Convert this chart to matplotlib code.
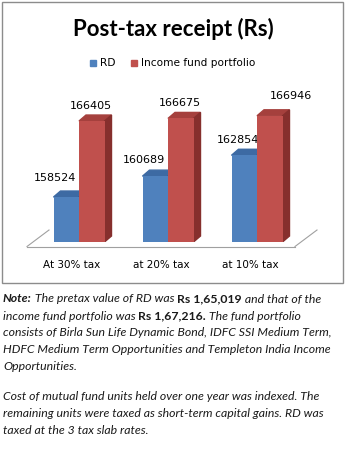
import numpy as np
import matplotlib.pyplot as plt
from matplotlib.patches import Polygon, Rectangle

categories = ["At 30% tax", "at 20% tax", "at 10% tax"]
series_names = ["RD", "Income fund portfolio"]
rd_values = [158524, 160689, 162854]
fund_values = [166405, 166675, 166946]

front_colors = ["#4F81BD", "#C0504D"]
top_colors = ["#3D6AA3", "#A5403D"]
side_colors = ["#2F5584", "#862F2D"]

W, H = 347, 450
fig = plt.figure(figsize=(W / 100, H / 100), dpi=100)


def fx(px):
    return px / W


def fy(py):
    return 1 - py / H


# chart frame
fig.patches.append(Rectangle((fx(2), fy(283)), fx(343) - fx(2), fy(2) - fy(283),
                             transform=fig.transFigure, fill=False,
                             edgecolor="#8c8c8c", lw=1))

fig.text(0.5, fy(29), "Post-tax receipt (Rs)", ha="center", va="center",
         fontsize=16, fontweight="bold", family="Lato")

# legend
leg_y = fy(63)
fig.patches.append(Rectangle((fx(90), leg_y - 3 / H), 6 / W, 6 / H,
                             transform=fig.transFigure, color=front_colors[0]))
fig.text(fx(100), leg_y, series_names[0], va="center", fontsize=7.6)
fig.patches.append(Rectangle((fx(131), leg_y - 3 / H), 6 / W, 6 / H,
                             transform=fig.transFigure, color=front_colors[1]))
fig.text(fx(141), leg_y, series_names[1], va="center", fontsize=7.6)

# bar axes
base_px, top_px = 242, 80
ax_left, ax_right = 27, 315
ax = fig.add_axes([fx(ax_left), fy(base_px), (ax_right - ax_left) / W,
                   (base_px - top_px) / H])
units_per_px = 103.7
ymin = 153860
ax.set_ylim(ymin, ymin + (base_px - top_px) * units_per_px)
px_per_cat = 89
xmin = -(79 - ax_left) / px_per_cat
ax.set_xlim(xmin, xmin + (ax_right - ax_left) / px_per_cat)
ax.axis("off")

x = np.arange(len(categories))
w = 25.5 / px_per_cat
ddx = 7 / px_per_cat
ddy = 6 * units_per_px

label_dx = [[-11, -1], [-11, -1], [-6, 21]]
label_dy = [[19, 15], [16, 15], [15, 20]]

for s, vals in enumerate([rd_values, fund_values]):
    xs = x - w / 2 + s * w
    ax.bar(xs, [v - ymin for v in vals], w, bottom=ymin, color=front_colors[s],
           zorder=3)
    for i, v in enumerate(vals):
        x0, x1 = xs[i] - w / 2, xs[i] + w / 2
        ax.add_patch(Polygon([(x0, v), (x1, v), (x1 + ddx, v + ddy), (x0 + ddx, v + ddy)],
                             closed=True, color=top_colors[s], zorder=2))
        ax.add_patch(Polygon([(x1, ymin), (x1, v), (x1 + ddx, v + ddy), (x1 + ddx, ymin + ddy)],
                             closed=True, color=side_colors[s], zorder=2))
        ax.annotate(str(v), (xs[i], v), xytext=(label_dx[i][s], label_dy[i][s]),
                    textcoords="offset pixels", ha="center", va="center",
                    fontsize=8, annotation_clip=False)

# floor outline
gray = "#a0a0a0"
fig.add_artist(plt.Line2D([fx(27), fx(295)], [fy(246.5), fy(246.5)], color=gray, lw=0.8))
fig.add_artist(plt.Line2D([fx(27), fx(49)], [fy(246.5), fy(230)], color=gray, lw=0.8))
fig.add_artist(plt.Line2D([fx(295), fx(317)], [fy(246.5), fy(230)], color=gray, lw=0.8))

for i, c in enumerate(categories):
    ax.annotate(c, (x[i], ymin), xytext=(-7, -23), textcoords="offset pixels",
                ha="center", va="center", fontsize=7.5, annotation_clip=False)

# note text, run by run
note_lines = [
    [("Note:", "bold", "italic"), (" The pretax value of RD was ", "normal", "italic"),
     ("Rs 1,65,019", "bold", "normal"), (" and that of the", "normal", "italic")],
    [("income fund portfolio was ", "normal", "italic"), ("Rs 1,67,216.", "bold", "normal"),
     (" The fund portfolio", "normal", "italic")],
    [("consists of Birla Sun Life Dynamic Bond, IDFC SSI Medium Term,", "normal", "italic")],
    [("HDFC Medium Term Opportunities and Templeton India Income", "normal", "italic")],
    [("Opportunities.", "normal", "italic")],
    [("Cost of mutual fund units held over one year was indexed. The", "normal", "italic")],
    [("remaining units were taxed as short-term capital gains. RD was", "normal", "italic")],
    [("taxed at the 3 tax slab rates.", "normal", "italic")],
]
line_y = [299, 316, 333, 349.5, 366, 397, 413.5, 430]

renderer = fig.canvas.get_renderer()
for runs, py in zip(note_lines, line_y):
    cx = 3
    for txt, wt, st in runs:
        t = fig.text(fx(cx), fy(py), txt, va="center", ha="left", fontsize=8.8,
                     fontweight=wt, fontstyle=st, family="Lato", color="#1a1a1a")
        cx += t.get_window_extent(renderer).width

fig.savefig("out.png", dpi=100)
